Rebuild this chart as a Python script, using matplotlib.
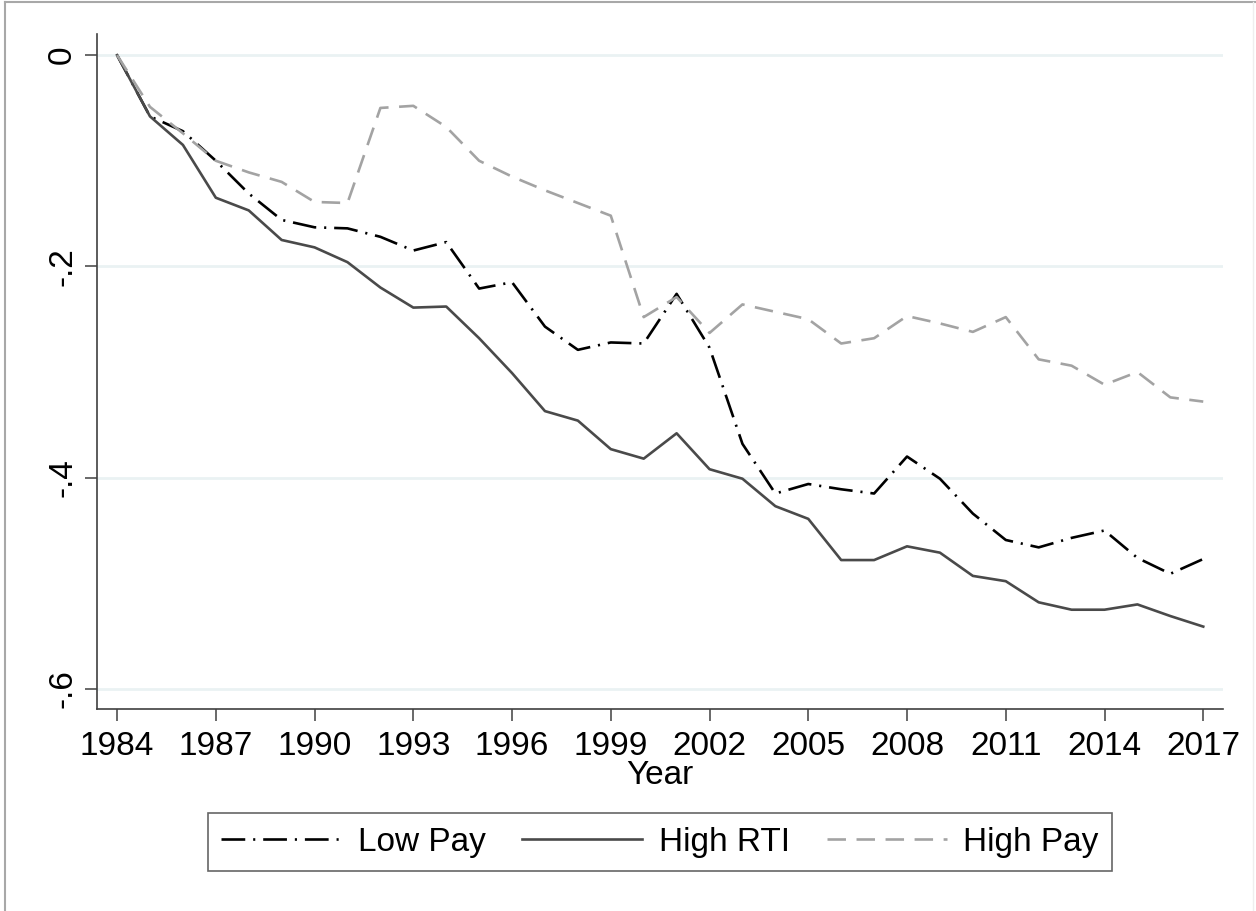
import matplotlib
matplotlib.use("Agg")
import matplotlib.pyplot as plt
from matplotlib.lines import Line2D

plt.rcParams['font.family'] = ['Liberation Sans', 'DejaVu Sans']

# data
years = list(range(1984, 2018))

low_pay = [0.0, -0.058, -0.072, -0.100, -0.131, -0.156, -0.163, -0.164, -0.172, -0.185,
           -0.177, -0.221, -0.215, -0.257, -0.279, -0.272, -0.273, -0.226, -0.277, -0.368,
           -0.415, -0.406, -0.411, -0.415, -0.380, -0.401, -0.434, -0.459, -0.466, -0.457,
           -0.450, -0.476, -0.491, -0.477]

high_rti = [0.0, -0.058, -0.085, -0.135, -0.147, -0.175, -0.182, -0.196, -0.220, -0.239,
            -0.238, -0.268, -0.301, -0.337, -0.346, -0.373, -0.382, -0.358, -0.392, -0.401,
            -0.427, -0.439, -0.478, -0.478, -0.465, -0.471, -0.493, -0.498, -0.518, -0.525,
            -0.525, -0.520, -0.531, -0.541]

high_pay = [0.0, -0.049, -0.074, -0.100, -0.111, -0.120, -0.139, -0.140, -0.050, -0.048,
            -0.068, -0.100, -0.115, -0.128, -0.140, -0.152, -0.248, -0.229, -0.263, -0.236,
            -0.243, -0.250, -0.273, -0.268, -0.247, -0.254, -0.262, -0.248, -0.288, -0.294,
            -0.312, -0.300, -0.324, -0.328]

x_ticks = list(range(1984, 2018, 3))
y_ticks = [0, -0.2, -0.4, -0.6]
y_labels = ["0", "-.2", "-.4", "-.6"]

FS = 24
AXC = "#404040"

fig = plt.figure(figsize=(12.56, 9.11), dpi=100)
ax = fig.add_axes([97 / 1256, 1 - 709 / 911, (1223 - 97) / 1256, (709 - 34) / 911])

ax.plot(years, low_pay, color="black", lw=1.9, linestyle=(0, (9, 3, 0.8, 3)), label="Low Pay")
ax.plot(years, high_rti, color="#4a4a4a", lw=1.9, label="High RTI")
ax.plot(years, high_pay, color="#a3a3a3", lw=1.9, linestyle=(0, (7, 4)), label="High Pay")

ax.set_xlim(1983.39, 2017.6)
ax.set_ylim(-0.619, 0.02)

ax.set_xticks(x_ticks)
ax.set_xticklabels([str(y) for y in x_ticks], fontsize=FS)
ax.set_yticks(y_ticks)
ax.set_yticklabels(y_labels, fontsize=FS, rotation=90, va="center")

for y in y_ticks:
    ax.axhline(y, color="#eaf2f3", lw=2, zorder=0)

for s in ["top", "right"]:
    ax.spines[s].set_visible(False)
for s in ["left", "bottom"]:
    ax.spines[s].set_color(AXC)
    ax.spines[s].set_linewidth(1.2)

ax.tick_params(axis="both", direction="out", length=8.5, width=1.1, color=AXC)
ax.tick_params(axis="x", pad=7)
ax.tick_params(axis="y", pad=5)

ax.set_xlabel("Year", fontsize=FS, labelpad=-1)

leg = fig.legend(loc="center", bbox_to_anchor=(660 / 1256, 1 - 842 / 911), ncol=3,
                 fontsize=FS, handlelength=3.6, handletextpad=0.5, columnspacing=1.1,
                 fancybox=False, frameon=True, borderpad=0.4)
leg.get_frame().set_edgecolor(AXC)
leg.get_frame().set_linewidth(1.2)

# outer graph border
fig.add_artist(Line2D([5 / 1256, 5 / 1256], [0, 1 - 2 / 911], transform=fig.transFigure,
                      color="#a8a8a8", lw=1.5))
fig.add_artist(Line2D([5 / 1256, 1], [1 - 2 / 911, 1 - 2 / 911], transform=fig.transFigure,
                      color="#a8a8a8", lw=1.5))
fig.add_artist(Line2D([1253 / 1256, 1253 / 1256], [0, 1 - 2 / 911], transform=fig.transFigure,
                      color="#eeeeee", lw=1))

fig.savefig("out.png", dpi=100)
